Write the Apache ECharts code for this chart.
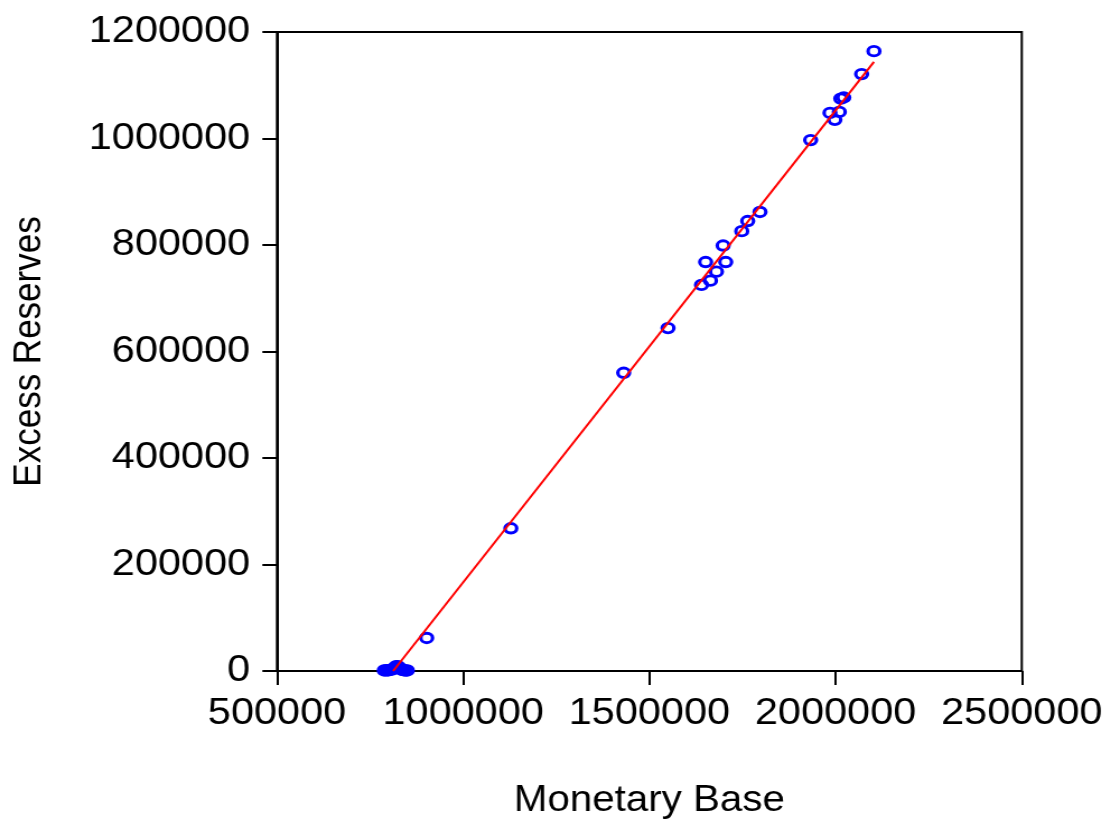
<!DOCTYPE html>
<html>
<head>
<meta charset="utf-8">
<script src="https://cdn.jsdelivr.net/npm/echarts@6/dist/echarts.min.js"></script>
<style>
html,body{margin:0;padding:0;background:#fff;overflow:hidden;}
#wrap{width:1109px;height:819px;overflow:hidden;}
#chart{width:990px;height:819px;transform:scaleX(1.12);transform-origin:0 0;}
</style>
</head>
<body>
<div id="wrap"><div id="chart"></div></div>
<script>
// Monetary Base (x) vs Excess Reserves (y)
const monetaryBase = [
  788000, 793000, 798000, 803000, 808000, 812000, 816000, 820000, 824000, 828000, 832000, 836000, 840000, 845000, 850000,
  902000, 1128000, 1431000, 1550000,
  1640000, 1651000, 1664000, 1680000, 1698000, 1705000, 1748000, 1764000, 1797000,
  1933000, 1985000, 1998000, 2010000, 2014000, 2022000, 2070000, 2103000
];
const excessReserves = [
  1000, 1500, 1000, 2000, 2500, 4000, 6000, 9000, 9000, 7000, 4000, 2000, 1500, 1000, 1000,
  62000, 268000, 560000, 644000,
  725000, 768000, 733000, 750000, 799000, 768000, 826000, 845000, 862000,
  997000, 1048000, 1035000, 1050000, 1075000, 1077000, 1121000, 1164000
];
// fitted line endpoints
const fitX = [812000, 2103000];
const fitY = [0, 1144000];

const xTicks = [500000, 1000000, 1500000, 2000000, 2500000];
const yTicks = [0, 200000, 400000, 600000, 800000, 1000000, 1200000];

const scatterData = monetaryBase.map((x, i) => [x, excessReserves[i]]);
const lineData = fitX.map((x, i) => [x, fitY[i]]);

const chart = echarts.init(document.getElementById('chart'), null, {renderer: 'canvas'});
const font = '"Liberation Sans", Arial, sans-serif';
chart.setOption({
  animation: false,
  backgroundColor: '#fff',
  grid: {left: 247.3, right: 77.7, top: 32, bottom: 148, containLabel: false, outerBoundsMode: 'none',
         show: true, borderColor: '#000', borderWidth: 2, backgroundColor: 'transparent'},
  xAxis: {
    type: 'value', min: xTicks[0], max: xTicks[xTicks.length - 1], interval: 500000,
    name: 'Monetary Base', nameLocation: 'middle', nameGap: 112,
    nameTextStyle: {fontFamily: font, fontSize: 36, color: '#000'},
    axisLine: {show: true, onZero: false, lineStyle: {color: '#000', width: 2}},
    axisTick: {show: true, inside: false, length: 14, lineStyle: {color: '#000', width: 2}},
    axisLabel: {fontFamily: font, fontSize: 37, color: '#000', margin: 24, formatter: v => String(v)},
    splitLine: {show: false}
  },
  yAxis: {
    type: 'value', min: yTicks[0], max: yTicks[yTicks.length - 1], interval: 200000,
    name: 'Excess Reserves', nameLocation: 'middle', nameGap: 203, nameRotate: 90,
    nameTextStyle: {fontFamily: font, fontSize: 35, color: '#000'},
    axisLine: {show: true, onZero: false, lineStyle: {color: '#000', width: 2}},
    axisTick: {show: true, inside: false, length: 13, lineStyle: {color: '#000', width: 2}},
    axisLabel: {fontFamily: font, fontSize: 37, color: '#000', margin: 24, formatter: v => String(v)},
    splitLine: {show: false}
  },
  series: [
    {
      type: 'scatter', data: scatterData, symbol: 'circle', symbolSize: [10.5, 9.5],
      itemStyle: {color: 'transparent', borderColor: '#0000ff', borderWidth: 3, opacity: 1},
      z: 2
    },
    {
      type: 'line', data: lineData, symbol: 'none',
      lineStyle: {color: '#ff0000', width: 2},
      z: 3
    }
  ]
});
</script>
</body>
</html>
